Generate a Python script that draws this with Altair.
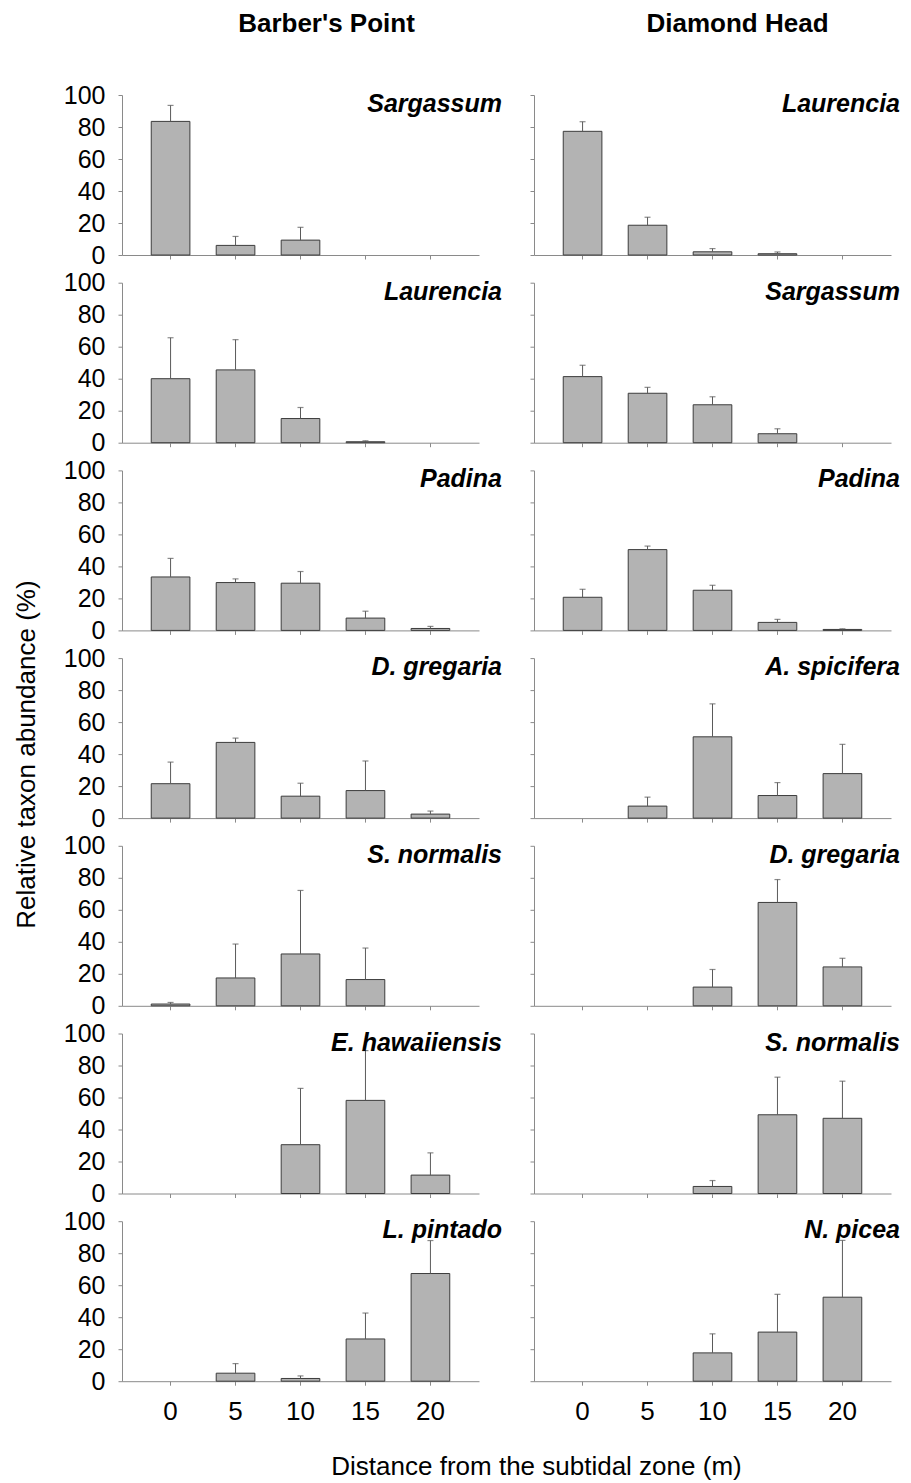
import altair as alt
import pandas as pd

distances = ["0", "5", "10", "15", "20"]

left_site = "Barber's Point"
right_site = "Diamond Head"

left_taxa = ["Sargassum", "Laurencia", "Padina", "D. gregaria",
             "S. normalis", "E. hawaiiensis", "L. pintado"]
left_mean = [
    [83.5, 6.0, 9.3, 0, 0],
    [40.0, 45.5, 15.1, 0.6, 0],
    [33.4, 29.9, 29.5, 7.7, 1.2],
    [21.5, 47.3, 13.7, 17.2, 2.5],
    [1.1, 17.4, 32.4, 16.4, 0],
    [0, 0, 30.5, 58.2, 11.5],
    [0, 5.0, 1.7, 26.4, 67.3],
]
left_se = [
    [10.0, 5.6, 8.0, 0, 0],
    [25.6, 18.9, 6.9, 0.6, 0],
    [11.6, 2.3, 7.3, 4.3, 1.3],
    [13.5, 2.7, 8.1, 18.5, 1.9],
    [1.0, 21.2, 39.7, 19.7, 0],
    [0, 0, 35.2, 31.1, 13.9],
    [0, 6.0, 1.6, 16.2, 20.6],
]

right_taxa = ["Laurencia", "Sargassum", "Padina", "A. spicifera",
              "D. gregaria", "S. normalis", "N. picea"]
right_mean = [
    [77.3, 18.6, 2.0, 0.8, 0],
    [41.3, 30.9, 23.7, 5.6, 0],
    [20.7, 50.5, 25.1, 5.0, 0.6],
    [0, 7.5, 50.8, 14.1, 27.8],
    [0, 0, 11.7, 64.6, 24.3],
    [0, 0, 4.4, 49.2, 47.0],
    [0, 0, 17.7, 30.7, 52.5],
]
right_se = [
    [6.0, 5.0, 2.0, 1.1, 0],
    [7.1, 3.7, 5.0, 3.1, 0],
    [5.0, 2.2, 3.1, 1.9, 0.4],
    [0, 5.6, 20.6, 8.1, 18.3],
    [0, 0, 11.0, 14.3, 5.4],
    [0, 0, 3.7, 23.5, 23.2],
    [0, 0, 11.9, 23.6, 35.5],
]

y_title = "Relative taxon abundance (%)"
x_title = "Distance from the subtidal zone (m)"

W = 357
H = 160
FONT = "Liberation Sans"
AXIS_GRAY = "#8a8a8a"
n_rows = len(left_taxa)


def panel(side, r):
    taxa = left_taxa if side == "left" else right_taxa
    means = left_mean if side == "left" else right_mean
    ses = left_se if side == "left" else right_se
    df = pd.DataFrame({
        "dist": distances,
        "mean": means[r],
        "se": ses[r],
    })
    df["upper"] = df["mean"] + df["se"]
    bottom = r == n_rows - 1

    x_axis_kw = dict(
        labels=bottom, labelFontSize=26, labelFont=FONT, labelColor="black",
        labelAngle=0, labelPadding=13,
        domainColor=AXIS_GRAY, tickColor=AXIS_GRAY, tickSize=4,
        grid=False, title=None,
    )
    if bottom and side == "left":
        x_axis_kw.update(title=x_title, titleFontSize=26, titleFont=FONT,
                         titleFontWeight="normal", titleX=414, titleY=85,
                         titleAlign="center", titleBaseline="middle",
                         titleColor="black")
    x_axis = alt.Axis(**x_axis_kw)
    x_scale = alt.Scale(domain=distances, paddingInner=0.405,
                        paddingOuter=0.45)

    y_axis_kw = dict(
        values=[0, 20, 40, 60, 80, 100], labels=(side == "left"),
        labelFontSize=25, labelFont=FONT, labelColor="black", labelPadding=13,
        labelOverlap=False, labelFlush=False,
        domainColor=AXIS_GRAY, tickColor=AXIS_GRAY, tickSize=4,
        grid=False, title=None,
    )
    if side == "left" and r == 3:
        y_axis_kw.update(title=y_title, titleFontSize=26, titleFont=FONT,
                         titleFontWeight="normal", titleX=-96, titleY=96,
                         titleAlign="center", titleBaseline="middle",
                         titleAngle=270, titleColor="black")
    y_axis = alt.Axis(**y_axis_kw)
    y_scale = alt.Scale(domain=[0, 100], nice=False)

    def X():
        return alt.X("dist:N", sort=distances, scale=x_scale, axis=x_axis)

    def Y(field):
        return alt.Y(field, type="quantitative", scale=y_scale, axis=y_axis)

    base = alt.Chart(df)
    bars = base.transform_filter("datum.mean > 0").mark_bar(
        color="#b3b3b3", stroke="#3c3c3c", strokeWidth=1
    ).encode(x=X(), y=Y("mean"))
    rule = base.transform_filter("datum.se > 0").mark_rule(
        color="#5a5a5a", strokeWidth=1
    ).encode(x=X(), y=Y("mean"), y2="upper:Q")
    cap = base.transform_filter("datum.se > 0").mark_tick(
        color="#5a5a5a", size=6, thickness=1.2, orient="horizontal"
    ).encode(x=X(), y=Y("upper"))
    lab_dx = 23 if side == "left" else 9
    label = alt.Chart(pd.DataFrame({"t": [taxa[r]]})).mark_text(
        align="right", baseline="alphabetic", fontStyle="italic",
        fontWeight="bold", fontSize=25, font=FONT, color="black"
    ).encode(x=alt.value(W + lab_dx), y=alt.value(17), text="t:N")

    layers = [bars, rule, cap, label]
    if r == 0:
        site = left_site if side == "left" else right_site
        head = alt.Chart(pd.DataFrame({"t": [site]})).mark_text(
            align="center", baseline="alphabetic", fontWeight="bold",
            fontSize=26, font=FONT, color="black"
        ).encode(x=alt.value(W / 2 + (26 if side == "left" else 25)),
                 y=alt.value(-63), text="t:N")
        layers.append(head)
    return alt.layer(*layers).properties(width=W, height=H)


panels = []
for r in range(n_rows):
    panels.append(panel("left", r))
    panels.append(panel("right", r))

chart = alt.concat(
    *panels, columns=2, spacing={"row": 27.7, "column": 55}, bounds="flush"
).properties(
    padding={"left": 4, "top": 3, "right": 0, "bottom": 0},
    background="white",
).configure_view(strokeWidth=0)

chart.save("out.html", embed_options={"renderer": "svg", "actions": False})
